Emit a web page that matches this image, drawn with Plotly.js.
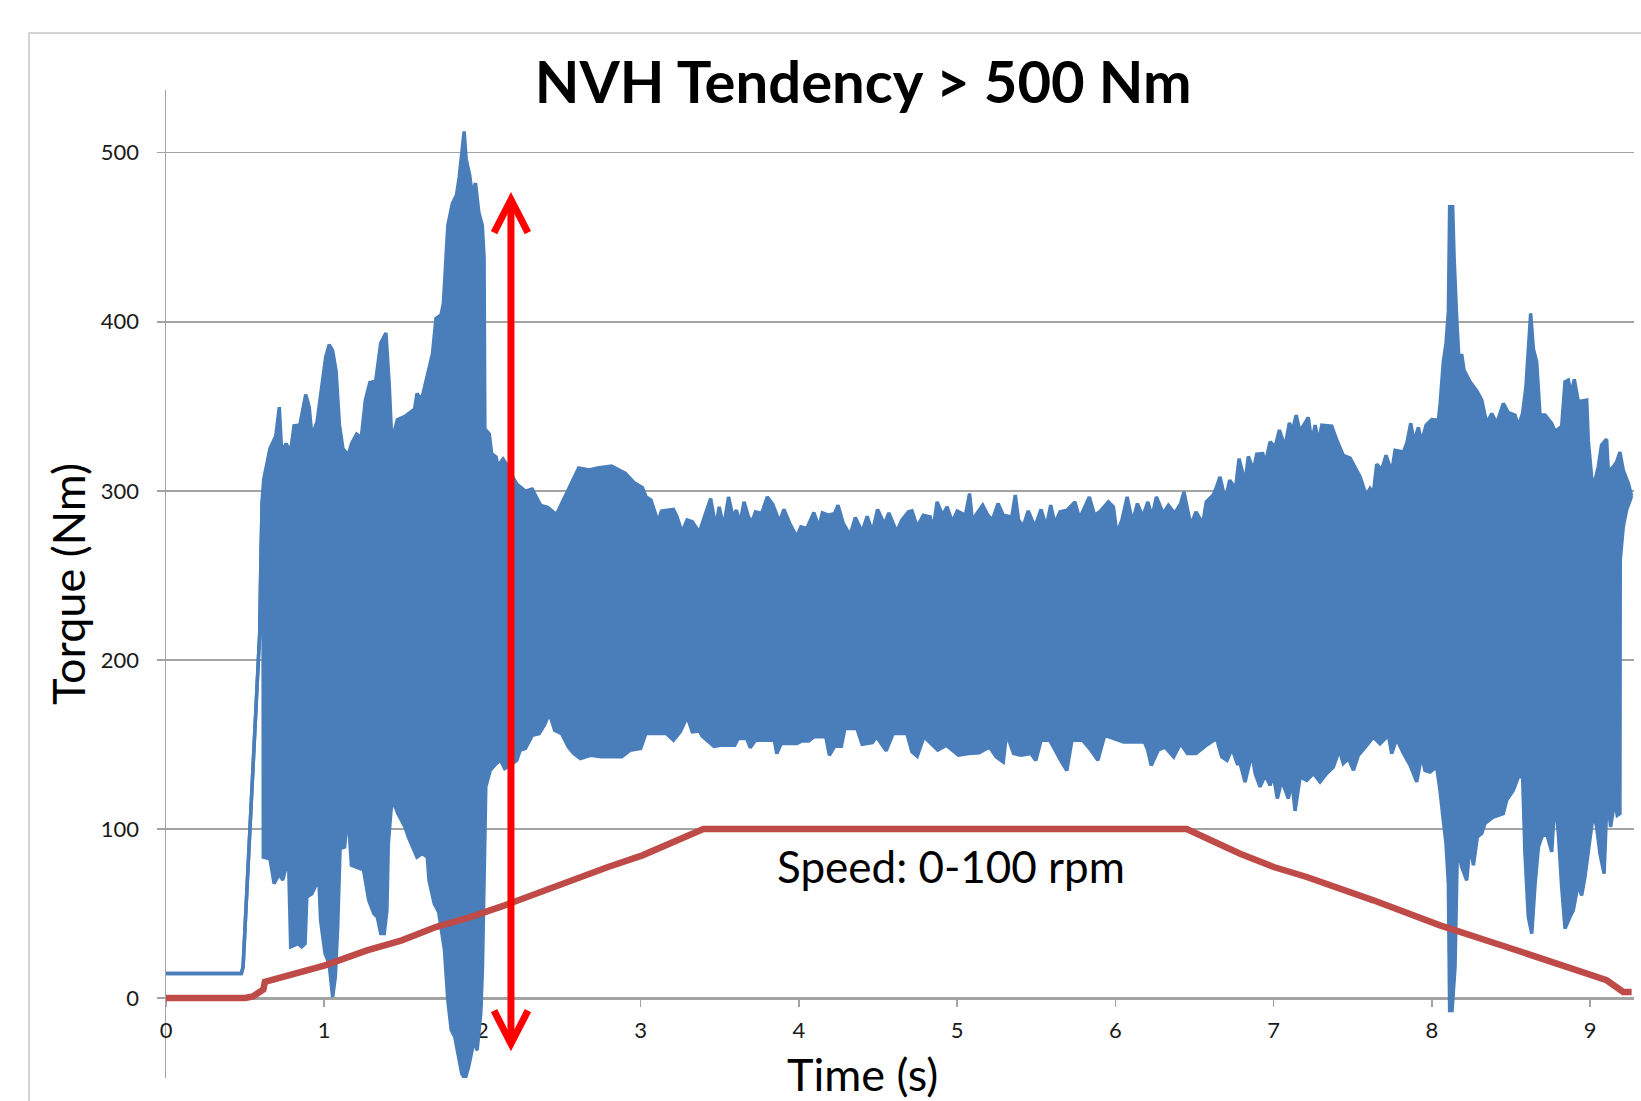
<!DOCTYPE html>
<html>
<head>
<meta charset="utf-8">
<script src="https://cdn.plot.ly/plotly-3.0.1.min.js"></script>
<style>html,body{margin:0;padding:0;background:#fff;}#chart{width:1641px;height:1101px;}</style>
</head>
<body>
<div id="chart"></div>
<script>
// ---- Data ----
// Torque signal (dense oscillation) drawn as its upper and lower envelope
const torqueUpperT = [0,0.476,0.487,0.52,0.548,0.57,0.592,0.6,0.608,0.618,0.657,0.694,0.716,0.731,0.759,0.787,0.809,0.846,0.862,0.883,0.905,0.922,0.955,0.977,1.009,1.031,1.053,1.075,1.096,1.118,1.151,1.173,1.205,1.234,1.26,1.288,1.325,1.357,1.39,1.411,1.427,1.462,1.51,1.571,1.586,1.615,1.651,1.684,1.706,1.738,1.753,1.766,1.781,1.81,1.836,1.853,1.869,1.884,1.897,1.919,1.934,1.956,1.977,1.999,2.01,2.015,2.043,2.058,2.086,2.097,2.13,2.152,2.18,2.217,2.271,2.314,2.369,2.412,2.467,2.499,2.554,2.608,2.674,2.728,2.815,2.902,2.957,3.011,3.033,3.065,3.109,3.131,3.207,3.228,3.261,3.293,3.326,3.37,3.442,3.474,3.496,3.524,3.555,3.583,3.605,3.627,3.653,3.681,3.703,3.725,3.764,3.8,3.834,3.877,3.905,3.942,3.986,4.012,4.05,4.094,4.126,4.148,4.186,4.225,4.247,4.28,4.323,4.356,4.399,4.431,4.464,4.497,4.54,4.568,4.617,4.65,4.692,4.714,4.747,4.786,4.83,4.845,4.873,4.907,4.936,4.969,5.0,5.052,5.078,5.1,5.117,5.161,5.194,5.222,5.258,5.291,5.345,5.367,5.388,5.417,5.449,5.491,5.53,5.563,5.591,5.617,5.65,5.694,5.744,5.773,5.835,5.868,5.905,5.955,5.987,6.009,6.041,6.074,6.107,6.139,6.172,6.205,6.231,6.259,6.302,6.335,6.374,6.412,6.433,6.476,6.509,6.552,6.574,6.618,6.639,6.661,6.694,6.722,6.759,6.781,6.819,6.84,6.872,6.893,6.931,6.946,6.977,7.009,7.036,7.072,7.099,7.12,7.142,7.166,7.219,7.24,7.262,7.283,7.304,7.367,7.399,7.44,7.483,7.514,7.546,7.584,7.609,7.63,7.651,7.682,7.71,7.746,7.767,7.82,7.841,7.866,7.887,7.914,7.935,7.963,7.999,8.041,8.052,8.072,8.089,8.104,8.112,8.131,8.14,8.157,8.174,8.188,8.203,8.241,8.283,8.315,8.346,8.378,8.41,8.451,8.483,8.525,8.546,8.573,8.594,8.609,8.624,8.641,8.662,8.683,8.715,8.757,8.778,8.82,8.841,8.862,8.879,8.9,8.925,8.978,8.988,9.01,9.031,9.051,9.072,9.104,9.115,9.146,9.167,9.188,9.209,9.241,9.262];
const torqueUpperV = [14.5,14.5,18.3,77.5,136.7,172,215.6,260,295,307,325,332.5,349.5,323,328,323,338.5,339,347,357,349.5,332.5,341,355.8,379,386.4,383,370.6,339,325,321,328,333.6,331.5,353.7,364,365,387.5,393.4,362,329.4,342,344,348.4,357.5,354,368.5,381,402,404,410.7,437,457,470,475,485.7,501.6,512.6,496,486.8,476,482,464.6,457,438,336.7,333.6,322,320,314.6,318.8,315.7,310,304,299.8,301,291.3,290.3,286,292.4,303,313.5,312.4,313.5,314.6,310.4,305,301.9,296.6,294.5,281.8,288,289,285,275.5,282.8,281.8,275.5,295.5,278.7,290.5,278.7,296.4,284.6,288.6,280.7,293.5,284.6,281.6,287.6,286.6,296.4,292.1,281.6,289,280.7,272.8,278.7,277.7,287.2,278.7,287,285.6,286.6,291.5,280.7,273.8,284.3,275.8,285,275.8,289,280.3,287,275.8,282.7,287.6,288.2,278.7,285.6,284.6,275.8,293.5,285.6,290.5,281.6,288,285.6,298.4,278.7,285.6,291.5,285.6,282.7,292.5,285.6,284.6,297.5,282.7,279,288.2,278.7,289,278.7,291.5,280.7,287.6,288.6,293.5,283.6,296.4,285.6,288,293.5,290.5,274.8,282.7,296.4,281.6,292.5,284.6,293.5,284.6,296.4,286.6,291.5,286.6,292.5,299.4,279.7,287.6,280.7,293.5,297.5,302.4,308.3,294.5,306.3,301.4,319,305.3,320.4,312.3,321.7,322,316,329,326,336,326,340.2,336,344.8,335.2,343.4,329,338.9,329,338.9,338.3,330,321,319.3,314.2,308.3,297.5,301.4,298.5,315.8,312.3,321,311.2,324,323,328,339.9,329,337.5,329,338.9,342.2,341.7,351.7,376.3,387.2,406,468,468,438.5,401,372.4,380.9,371.4,364.5,359.2,353.7,339.9,345.8,339.9,351.7,346.2,344.8,338.3,345.8,361.5,383.3,405,383.9,376.3,344.8,344.8,339.9,335.2,338.1,364.5,365.5,357.6,365.9,352.7,353.7,330,307.3,306.3,314.2,327.1,330.5,311.2,314.2,317.1,323,312.3,304.4,297];

const torqueLowerT = [0,0.476,0.487,0.52,0.548,0.57,0.592,0.6,0.608,0.613,0.615,0.657,0.683,0.716,0.738,0.774,0.788,0.835,0.857,0.879,0.89,0.922,0.966,0.977,1.005,1.031,1.053,1.07,1.085,1.1,1.129,1.14,1.157,1.172,1.194,1.227,1.238,1.26,1.281,1.314,1.335,1.357,1.379,1.396,1.405,1.422,1.433,1.466,1.51,1.531,1.564,1.586,1.619,1.651,1.662,1.695,1.723,1.738,1.76,1.781,1.803,1.825,1.847,1.869,1.89,1.912,1.934,1.949,1.966,1.989,2.0,2.01,2.021,2.049,2.086,2.114,2.14,2.18,2.217,2.238,2.271,2.315,2.358,2.391,2.423,2.456,2.5,2.543,2.576,2.619,2.684,2.75,2.815,2.88,2.934,3.0,3.032,3.098,3.163,3.207,3.25,3.294,3.326,3.37,3.388,3.463,3.507,3.594,3.616,3.67,3.692,3.725,3.844,3.86,3.888,3.986,4.018,4.062,4.094,4.17,4.192,4.225,4.268,4.29,4.366,4.399,4.464,4.49,4.551,4.595,4.682,4.714,4.747,4.79,4.877,4.932,5.008,5.073,5.138,5.204,5.247,5.291,5.312,5.356,5.404,5.465,5.497,5.53,5.584,5.66,5.693,5.725,5.791,5.845,5.889,5.932,5.987,6.052,6.117,6.183,6.204,6.226,6.27,6.313,6.368,6.411,6.455,6.509,6.574,6.639,6.672,6.705,6.737,6.77,6.788,6.819,6.862,6.883,6.914,6.946,6.977,6.998,7.023,7.051,7.093,7.114,7.135,7.167,7.209,7.251,7.293,7.335,7.377,7.415,7.44,7.472,7.504,7.535,7.588,7.63,7.672,7.725,7.746,7.777,7.82,7.862,7.904,7.935,7.956,7.988,8.03,8.051,8.072,8.089,8.104,8.112,8.127,8.146,8.161,8.188,8.22,8.241,8.262,8.287,8.315,8.335,8.388,8.451,8.472,8.515,8.546,8.573,8.588,8.609,8.631,8.652,8.673,8.694,8.725,8.757,8.778,8.799,8.82,8.841,8.872,8.893,8.925,8.946,8.967,8.999,9.02,9.041,9.062,9.088,9.108,9.129,9.156,9.171,9.188,9.19,9.209,9.23,9.262];
const torqueLowerV = [14.5,14.5,18.3,77.5,136.7,172,215.6,260,295,290,83.4,82.4,67.7,73.6,69.7,83.4,30.2,32.1,30.2,32.1,59.8,61.7,70.6,46,26.3,20.3,0.6,12.4,42,88.4,89.4,101.2,99.2,78.5,77.5,76.5,81.4,67.7,57.8,49.9,48,38.1,38.1,51.9,91.4,111,117,109,101.2,95.3,88.4,83.4,85.4,83.4,69.7,55.8,50.9,42,28.2,-1.4,-19.1,-23,-32.9,-44.7,-48,-40.8,-31,-25,-31,-9.2,18.3,73.6,124.9,134.7,138.7,140.7,135.7,138,140.7,146.6,147.6,155.4,156.4,161.4,168.3,158.4,156.4,148.5,144.6,141.7,143.6,142.7,142.7,142.7,146.6,147.6,156.4,156.4,156.4,152.5,157.4,166.3,157.4,158,154.9,148.9,149.5,149.5,153.5,153.5,148.1,152.5,152.5,144.6,150.5,150.5,152.1,152.1,154.5,154.5,143.6,148.9,148.9,159.4,159.4,150.1,151.1,154.5,146.2,156.4,156.4,145.6,143,154.5,146.6,149.5,143.6,144.6,145,148.5,142.6,139.6,156.4,144.6,143.6,144.6,140.6,152.5,152.5,139.6,134.6,152.5,152.5,146.6,140.6,155.4,153.5,151.5,151.5,151.5,146.6,137.6,146.6,148.5,142.6,150.5,144.6,144.6,149.5,153.5,142.6,140.6,147.5,138.6,138.7,127.8,144.6,132.8,124.9,131.8,125.8,131.8,118,128.8,118,128.8,110.7,130.8,128.8,132.8,127.8,132.8,136.7,146.6,138.7,141.7,134.7,143.6,149.5,154.4,150.4,155.4,144.6,153.4,144.6,137.7,127.8,143.6,134.7,133.7,136.7,122.9,105.1,91.4,67.7,-7.3,-7.3,18.3,89.4,77.5,69.6,91.4,78.5,95.3,97.3,103.2,107.1,109.1,117,122.9,130.8,131.2,85.4,47.9,38.1,67.7,89.4,95.3,97.3,86.5,118,97.3,65.7,41.1,47.9,51.8,67.7,60.7,71.6,93.3,109.1,101.2,85.4,73.6,120.9,101.2,117,108.1,109.1,259,278.7,288.6,297];

// Speed trace (0-100 rpm ramp)
const speedT = [0,0.5,0.55,0.6,0.615,0.625,0.7,0.835,1.005,1.27,1.49,1.705,1.923,2.14,2.358,2.576,2.793,3.011,3.228,3.37,3.396,6.45,6.788,7.0,7.209,7.63,8.051,8.472,8.893,9.104,9.209,9.262];
const speedV = [0,0,1,3.5,5,9.5,11.5,14.4,19.3,28.2,34.1,42,47.9,54.8,62.7,70.6,77.5,84.4,93.3,98.2,100,100,85.4,77.5,71.6,57.8,43,30.2,17.4,10.5,3.6,3.6];

// Axis ticks
const xTicks = [0,1,2,3,4,5,6,7,8,9];
const yTicks = [0,100,200,300,400,500];

// Text
const chartTitle = 'NVH Tendency > 500 Nm';
const xTitle = 'Time (s)';
const yTitle = 'Torque (Nm)';
const speedLabel = 'Speed: 0-100 rpm';

// Arrow annotation (double headed, at t = 2.18 s)
const arrowT = 2.18, arrowTop = 472.2, arrowBottom = -27;

// ---- Styles ----
const BLUE = '#4a7ebb', RED = '#be4b48', GRID = '#a3a3a3', FONT = 'Lato, "Open Sans", sans-serif';
const X_MAX = 9.277, Y_MIN = -47.3, Y_MAX = 537.1;

const traces = [
  {x: torqueLowerT, y: torqueLowerV, type: 'scatter', mode: 'lines',
   line: {color: BLUE, width: 3.5}, hoverinfo: 'skip', showlegend: false},
  {x: torqueUpperT, y: torqueUpperV, type: 'scatter', mode: 'lines', fill: 'tonexty',
   fillcolor: BLUE, line: {color: BLUE, width: 3.5}, hoverinfo: 'skip', showlegend: false},
  {x: speedT, y: speedV, type: 'scatter', mode: 'lines',
   line: {color: RED, width: 6.5}, hoverinfo: 'skip', showlegend: false}
];

const hw = 0.107, hh = 19.5;
const layout = {
  width: 1641, height: 1101,
  margin: {l: 166, r: 7, t: 90, b: 23, pad: 0},
  paper_bgcolor: '#ffffff', plot_bgcolor: '#ffffff',
  showlegend: false,
  title: {text: chartTitle, font: {family: FONT, size: 58, color: '#000', weight: 700},
          xref: 'container', yref: 'container', x: 0.526, y: 1 - 83/1101,
          xanchor: 'center', yanchor: 'middle'},
  xaxis: {range: [0, X_MAX], tickvals: xTicks, ticktext: xTicks.map(String),
          anchor: 'free', position: (0 - Y_MIN) / (Y_MAX - Y_MIN),
          showline: true, linecolor: GRID, linewidth: 1.5,
          ticks: 'outside', ticklen: 7, tickcolor: GRID, tickwidth: 1.5,
          showgrid: false, zeroline: false, layer: 'below traces',
          tickfont: {family: FONT, size: 22, color: '#1a1a1a'}, ticklabelstandoff: 5},
  yaxis: {range: [Y_MIN, Y_MAX], tickvals: yTicks, ticktext: yTicks.map(String),
          showline: true, linecolor: GRID, linewidth: 1.5,
          ticks: 'outside', ticklen: 8, tickcolor: GRID, tickwidth: 1.5,
          showgrid: true, gridcolor: GRID, gridwidth: 1.5, zeroline: false,
          layer: 'below traces',
          tickfont: {family: FONT, size: 22, color: '#1a1a1a'}, ticklabelstandoff: 13,
          title: {text: yTitle, font: {family: FONT, size: 45, color: '#000'}, standoff: 1}},
  annotations: [
    {text: xTitle, xref: 'paper', yref: 'paper', x: (862.5 - 166) / 1468, y: (1078 - 1074) / 988,
     xanchor: 'center', yanchor: 'middle', showarrow: false,
     font: {family: FONT, size: 45, color: '#000'}},
    {text: speedLabel, xref: 'x', yref: 'y', x: 4.96, y: 78,
     xanchor: 'center', yanchor: 'middle', showarrow: false,
     font: {family: FONT, size: 44, color: '#000'}}
  ],
  shapes: [
    {type: 'rect', xref: 'paper', yref: 'paper', x0: (29 - 166) / 1468, x1: 1.3, y0: -0.3, y1: (1078 - 33) / 988,
     line: {color: '#c6c6c6', width: 1.5}, fillcolor: 'rgba(0,0,0,0)', layer: 'below'},
    {type: 'line', xref: 'x', yref: 'y', x0: arrowT, x1: arrowT, y0: arrowBottom, y1: arrowTop,
     line: {color: '#ff0000', width: 7}, layer: 'above'},
    {type: 'path', xref: 'x', yref: 'y',
     path: `M ${arrowT - hw} ${arrowTop - hh} L ${arrowT} ${arrowTop} L ${arrowT + hw} ${arrowTop - hh}`,
     line: {color: '#ff0000', width: 7}, layer: 'above'},
    {type: 'path', xref: 'x', yref: 'y',
     path: `M ${arrowT - hw} ${arrowBottom + hh} L ${arrowT} ${arrowBottom} L ${arrowT + hw} ${arrowBottom + hh}`,
     line: {color: '#ff0000', width: 7}, layer: 'above'}
  ]
};

Plotly.newPlot('chart', traces, layout, {displayModeBar: false, staticPlot: true});
</script>
</body>
</html>
